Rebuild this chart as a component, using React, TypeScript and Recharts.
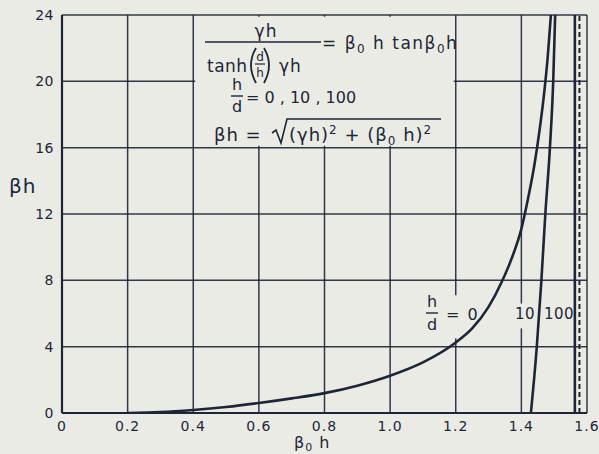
import {
  LineChart,
  Line,
  CartesianGrid,
  XAxis,
  YAxis,
  ReferenceArea,
  ReferenceLine,
} from "recharts";

// beta0*h along x, beta*h along y
const xTicks = [0, 0.2, 0.4, 0.6, 0.8, 1.0, 1.2, 1.4, 1.6];
const xTickLabels = ["0", "0.2", "0.4", "0.6", "0.8", "1.0", "1.2", "1.4", "1.6"];
const yTicks = [0, 4, 8, 12, 16, 20, 24];

// h/d = 0
const curveH0 = [
  { x: 0.2, y: 0 },
  { x: 0.3, y: 0.05 },
  { x: 0.4, y: 0.18 },
  { x: 0.5, y: 0.36 },
  { x: 0.6, y: 0.6 },
  { x: 0.7, y: 0.88 },
  { x: 0.8, y: 1.2 },
  { x: 0.9, y: 1.65 },
  { x: 1.0, y: 2.25 },
  { x: 1.1, y: 3.05 },
  { x: 1.2, y: 4.25 },
  { x: 1.25, y: 5.1 },
  { x: 1.3, y: 6.4 },
  { x: 1.34, y: 7.9 },
  { x: 1.37, y: 9.3 },
  { x: 1.4, y: 11.1 },
  { x: 1.42, y: 12.9 },
  { x: 1.44, y: 15.0 },
  { x: 1.455, y: 17.0 },
  { x: 1.47, y: 19.4 },
  { x: 1.48, y: 21.4 },
  { x: 1.49, y: 24 },
];

// h/d = 10
const curveH10 = [
  { x: 1.429, y: 0 },
  { x: 1.447, y: 4 },
  { x: 1.461, y: 8 },
  { x: 1.473, y: 12 },
  { x: 1.487, y: 16 },
  { x: 1.497, y: 20 },
  { x: 1.503, y: 24 },
];

// h/d = 100
const curveH100 = [
  { x: 1.563, y: 0 },
  { x: 1.563, y: 24 },
];

const asymptoteX = 1.577;

const INK = "#1d2636";
const PAPER = "#ebebe6";
const FONT = "'DejaVu Sans', sans-serif";

// equation block in the upper middle of the plot
function Equations() {
  return (
    <g fill={INK} fontFamily={FONT} stroke="none">
      <text x={266} y={37} fontSize={17} textAnchor="middle" letterSpacing={1}>
        γh
      </text>
      <line x1={205} x2={321} y1={42} y2={42} stroke={INK} strokeWidth={1.6} />
      <text x={207} y={72} fontSize={17} letterSpacing={0.5}>
        tanh
      </text>
      <path d="M 256 48 Q 246 65 256 83" stroke={INK} strokeWidth={1.8} fill="none" />
      <text x={260} y={61} fontSize={12} textAnchor="middle">d</text>
      <line x1={255} x2={265} y1={64} y2={64} stroke={INK} strokeWidth={1.2} />
      <text x={260} y={77} fontSize={12} textAnchor="middle">h</text>
      <path d="M 264 48 Q 274 65 264 83" stroke={INK} strokeWidth={1.8} fill="none" />
      <text x={279} y={72} fontSize={17} letterSpacing={1}>
        γh
      </text>
      <text x={322} y={49} fontSize={17} letterSpacing={1.5}>
        = β<tspan fontSize={12} dy={4}>0</tspan>
        <tspan dy={-4}> h tanβ</tspan>
        <tspan fontSize={12} dy={4}>0</tspan>
        <tspan dy={-4}>h</tspan>
      </text>

      <text x={237} y={90} fontSize={16} textAnchor="middle">h</text>
      <line x1={231} x2={243} y1={96} y2={96} stroke={INK} strokeWidth={1.4} />
      <text x={237} y={112} fontSize={16} textAnchor="middle">d</text>
      <text x={246} y={103} fontSize={16}>
        = 0 , 10 , 100
      </text>

      <text x={214} y={141} fontSize={18} letterSpacing={1}>
        βh =
      </text>
      <path
        d="M 272 133 L 276 130 L 281 143 L 287 119 L 441 119"
        stroke={INK}
        strokeWidth={1.6}
        fill="none"
      />
      <text x={289} y={141} fontSize={18} letterSpacing={1}>
        (γh)<tspan fontSize={12} dy={-7}>2</tspan>
        <tspan dy={7}> + (β</tspan>
        <tspan fontSize={12} dy={4}>0</tspan>
        <tspan dy={-4}> h)</tspan>
        <tspan fontSize={12} dy={-7}>2</tspan>
      </text>
    </g>
  );
}

function LabelH0() {
  return (
    <g fill={INK} fontFamily={FONT}>
      <text x={432} y={307} fontSize={16} textAnchor="middle">h</text>
      <line x1={426} x2={438} y1={313} y2={313} stroke={INK} strokeWidth={1.4} />
      <text x={432} y={330} fontSize={16} textAnchor="middle">d</text>
      <text x={446} y={320} fontSize={16} letterSpacing={1.5}>= 0</text>
    </g>
  );
}

function LabelH10() {
  return (
    <g fill={INK} fontFamily={FONT}>
      <text x={525} y={319} fontSize={15} textAnchor="middle" letterSpacing={0.5}>10</text>
      <text x={559} y={319} fontSize={15} textAnchor="middle" letterSpacing={0.5}>100</text>
    </g>
  );
}

export default function App() {
  return (
    <div style={{ width: 599, height: 454, background: PAPER, position: "relative" }}>
      <style>{"body{margin:0}"}</style>
      <LineChart
        width={599}
        height={454}
        margin={{ top: 15, right: 12, left: 0, bottom: 0 }}
        style={{ fontFamily: FONT }}
      >
        <CartesianGrid stroke={INK} strokeWidth={1.5} strokeOpacity={0.9} />
        <XAxis
          type="number"
          dataKey="x"
          domain={[0, 1.6]}
          ticks={xTicks}
          tickFormatter={(v: number) => xTickLabels[xTicks.indexOf(v)] ?? String(v)}
          height={41}
          axisLine={{ stroke: INK, strokeWidth: 2.2 }}
          tickLine={false}
          tick={{ fill: INK, fontSize: 14, letterSpacing: 1 }}
          allowDataOverflow
        />
        <YAxis
          type="number"
          domain={[0, 24]}
          ticks={yTicks}
          width={62}
          axisLine={{ stroke: INK, strokeWidth: 2.2 }}
          tickLine={false}
          tick={{ fill: INK, fontSize: 14, letterSpacing: 0.5 }}
          allowDataOverflow
        />

        {/* blank panels behind the equations and the curve labels */}
        <ReferenceArea
          x1={0.406}
          x2={1.194}
          y1={16.12}
          y2={23.9}
          fill={PAPER}
          fillOpacity={1}
          stroke="none"
          label={<Equations />}
        />
        <ReferenceArea
          x1={1.19}
          x2={1.21}
          y1={4.5}
          y2={7.1}
          fill={PAPER}
          fillOpacity={1}
          stroke="none"
          label={<LabelH0 />}
        />
        <ReferenceArea
          x1={1.39}
          x2={1.41}
          y1={5.1}
          y2={6.6}
          fill={PAPER}
          fillOpacity={1}
          stroke="none"
          label={<LabelH10 />}
        />

        <ReferenceLine x={asymptoteX} stroke={INK} strokeWidth={2} strokeDasharray="5 3" />

        <Line
          data={curveH0}
          dataKey="y"
          type="monotone"
          stroke={INK}
          strokeWidth={2.6}
          dot={false}
          isAnimationActive={false}
        />
        <Line
          data={curveH10}
          dataKey="y"
          type="monotone"
          stroke={INK}
          strokeWidth={2.6}
          dot={false}
          isAnimationActive={false}
        />
        <Line
          data={curveH100}
          dataKey="y"
          type="linear"
          stroke={INK}
          strokeWidth={2.6}
          dot={false}
          isAnimationActive={false}
        />
      </LineChart>
      <svg
        width={599}
        height={454}
        style={{ position: "absolute", left: 0, top: 0, pointerEvents: "none" }}
      >
        <g fill={INK} fontFamily={FONT}>
          <text x={9} y={193} fontSize={20} letterSpacing={1}>
            βh
          </text>
          <text x={294} y={448} fontSize={16} letterSpacing={1}>
            β<tspan fontSize={11} dy={3}>0</tspan>
            <tspan dy={-3}> h</tspan>
          </text>
        </g>
      </svg>
    </div>
  );
}
